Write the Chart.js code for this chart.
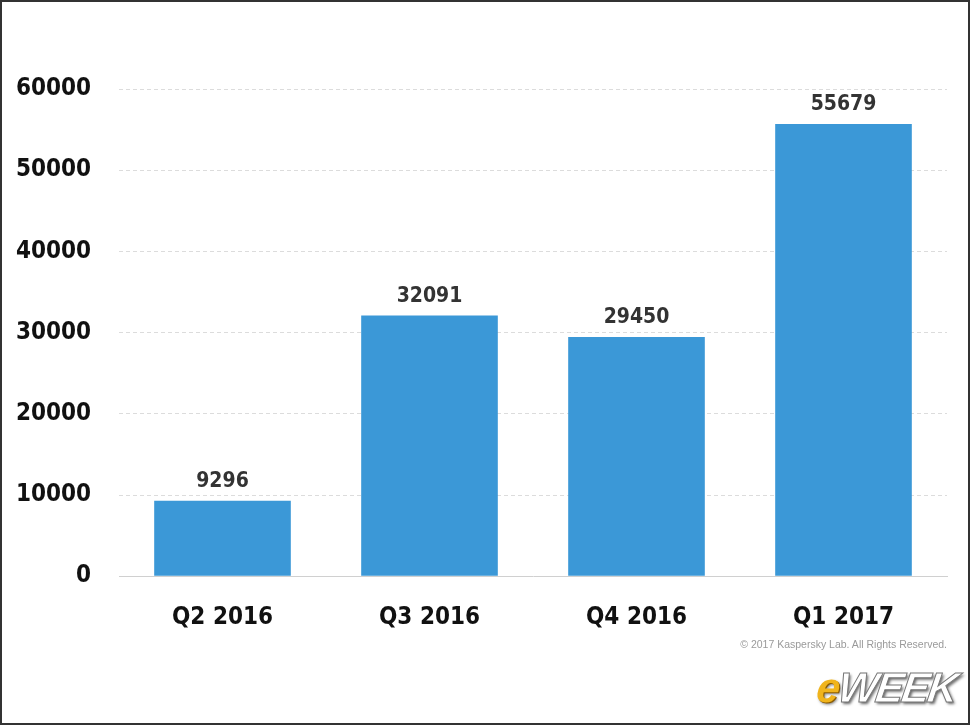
<!DOCTYPE html>
<html>
<head>
<meta charset="utf-8">
<script src="https://cdn.jsdelivr.net/npm/chart.js@4.4.0/dist/chart.umd.min.js"></script>
<style>
  html, body { margin: 0; padding: 0; background: #fff; }
  #frame {
    position: relative;
    width: 970px; height: 725px;
    box-sizing: border-box;
    border: 2px solid #333;
    overflow: hidden;
  }
  #chart-box { position: absolute; left: -2px; top: -2px; width: 970px; height: 725px; }
  #copyright {
    position: absolute; right: 21px; top: 636px;
    font-family: 'Liberation Sans', Arial, sans-serif;
    font-size: 10.5px; color: #9a9a9a;
  }
  #logo {
    position: absolute; right: 12px; top: 662px;
    font-family: 'Liberation Sans', Arial, sans-serif;
    font-weight: bold; font-style: italic;
    font-size: 42px; letter-spacing: -2px;
    transform: skewX(-8deg);
  }
  #logo .e { color: #f0b41c; text-shadow: 1px 1px 0 #8a5a00, 2px 2px 3px rgba(0,0,0,0.5); }
  #logo .w { color: #fff; -webkit-text-stroke: 1px #777; text-shadow: 2px 2px 3px rgba(0,0,0,0.6); }
</style>
</head>
<body>
<div id="frame">
  <div id="chart-box"><canvas id="chart"></canvas></div>
  <div id="copyright">© 2017 Kaspersky Lab. All Rights Reserved.</div>
  <div id="logo"><span class="e">e</span><span class="w">WEEK</span></div>
</div>
<script>
// Chart data
const quarters = ['Q2 2016', 'Q3 2016', 'Q4 2016', 'Q1 2017'];
const attacks = [9296, 32091, 29450, 55679];
const yTicks = [0, 10000, 20000, 30000, 40000, 50000, 60000];

const narrowFont = "'Liberation Sans Narrow', 'DejaVu Sans Condensed', 'Roboto Condensed', sans-serif";

// Draw value labels above each bar
const valueLabels = {
    id: 'valueLabels',
    afterDatasetsDraw(chart) {
        const ctx = chart.ctx;
        const meta = chart.getDatasetMeta(0);
        ctx.save();
        ctx.font = 'bold 21px ' + narrowFont;
        ctx.fillStyle = '#333';
        ctx.textAlign = 'center';
        ctx.textBaseline = 'bottom';
        meta.data.forEach((bar, i) => {
            ctx.fillText(String(attacks[i]), bar.x, bar.y - 9);
        });
        ctx.restore();
    }
};

const ctx = document.getElementById('chart');

new Chart(ctx, {
    type: 'bar',
    data: {
        labels: quarters,
        datasets: [{
            data: attacks,
            backgroundColor: '#3b98d7',
            borderWidth: 0,
            categoryPercentage: 0.66,
            barPercentage: 1.0
        }]
    },
    options: {
        responsive: true,
        maintainAspectRatio: false,
        animation: false,
        layout: {
            padding: { top: 89, right: 23, bottom: 74, left: 0 }
        },
        plugins: {
            legend: { display: false },
            tooltip: { enabled: false }
        },
        scales: {
            x: {
                grid: { display: false },
                border: { display: true, color: '#d0d0d0', width: 1 },
                ticks: {
                    color: '#111',
                    padding: 19,
                    font: { family: narrowFont, size: 24, weight: 'bold' }
                }
            },
            y: {
                min: 0,
                max: 60000,
                afterFit(scale) { scale.width = 119; },
                afterBuildTicks(scale) {
                    scale.ticks = yTicks.map(v => ({ value: v }));
                },
                grid: {
                    drawTicks: false,
                    color: c => c.tick && c.tick.value === 0 ? 'rgba(0,0,0,0)' : '#dcdcdc',
                    lineWidth: 1
                },
                border: { display: false, dash: [4, 3] },
                ticks: {
                    color: '#111',
                    padding: 28,
                    callback: v => String(v),
                    font: { family: narrowFont, size: 24, weight: 'bold' }
                }
            }
        }
    },
    plugins: [valueLabels]
});
</script>
</body>
</html>
